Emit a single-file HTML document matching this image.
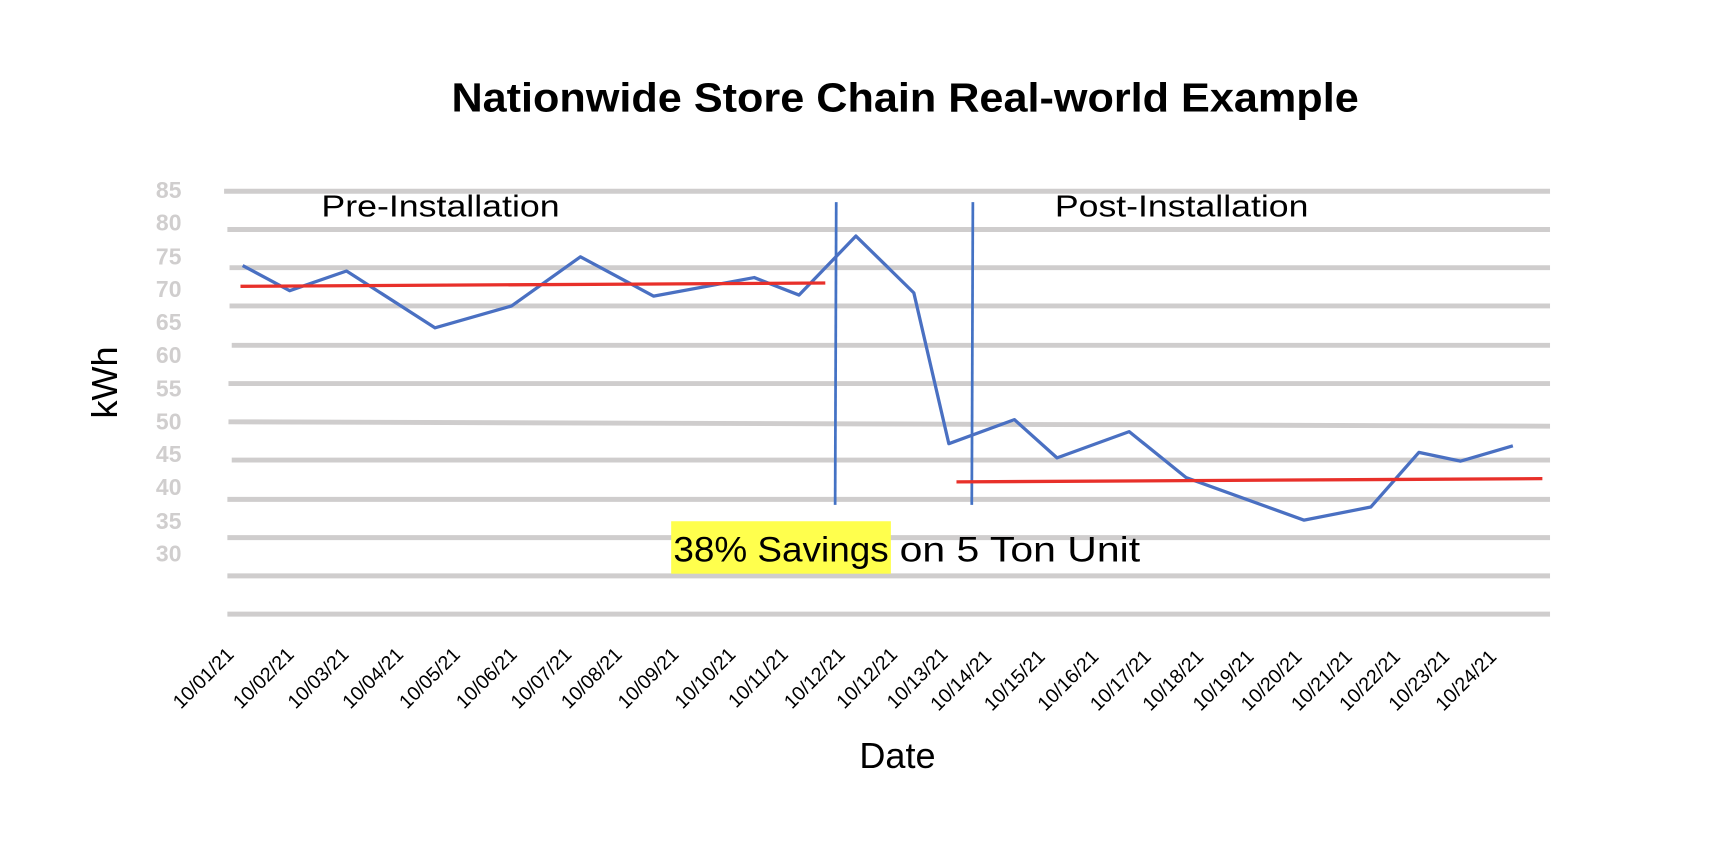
<!DOCTYPE html>
<html><head><meta charset="utf-8"><style>
html,body{margin:0;padding:0;background:#fff;}
svg{display:block;}
text{font-family:"Liberation Sans",sans-serif;}
</style></head><body>
<svg width="1714" height="860" viewBox="0 0 1568 787" preserveAspectRatio="none" xmlns="http://www.w3.org/2000/svg">
<rect width="1568" height="787" fill="#fff"/>
<text x="413" y="102" font-size="37" font-weight="bold" fill="#000" textLength="830" lengthAdjust="spacingAndGlyphs">Nationwide Store Chain Real-world Example</text>
<g stroke="#cfcdcd" stroke-width="4.5">
<line x1="205" y1="175" x2="1418" y2="175"/>
<line x1="208" y1="210" x2="1418" y2="210"/>
<line x1="210" y1="245" x2="1418" y2="245"/>
<line x1="210" y1="280" x2="1418" y2="280"/>
<line x1="212" y1="316" x2="1418" y2="316"/>
<line x1="209" y1="351" x2="1418" y2="351"/>
<line x1="209" y1="386" x2="1418" y2="390"/>
<line x1="212" y1="421" x2="1418" y2="421"/>
<line x1="208" y1="457" x2="1418" y2="457"/>
<line x1="208" y1="492" x2="1418" y2="492"/>
<line x1="208" y1="527" x2="1418" y2="527"/>
<line x1="208" y1="562" x2="1418" y2="562"/>
</g>
<g font-size="21" font-weight="bold" fill="#d0cece" text-anchor="end">
<text x="166" y="181">85</text><text x="166" y="211">80</text><text x="166" y="242">75</text>
<text x="166" y="272">70</text><text x="166" y="302">65</text><text x="166" y="332">60</text>
<text x="166" y="363">55</text><text x="166" y="393">50</text><text x="166" y="423">45</text>
<text x="166" y="453">40</text><text x="166" y="484">35</text><text x="166" y="514">30</text>
</g>
<text x="294" y="198" font-size="28" fill="#000" textLength="218" lengthAdjust="spacingAndGlyphs">Pre-Installation</text>
<text x="965" y="198" font-size="28" fill="#000" textLength="232" lengthAdjust="spacingAndGlyphs">Post-Installation</text>
<line x1="765" y1="185" x2="764" y2="462" stroke="#4472c4" stroke-width="2.5"/>
<line x1="890" y1="185" x2="889" y2="462" stroke="#4472c4" stroke-width="2.5"/>
<polyline fill="none" stroke="#4a70c2" stroke-width="3" stroke-linejoin="round" points="222,243 265,266 317,248 398,300 468,280 531,235 598,271 690,254 731,270 783,216 836,268 868,406 928,384 967,419 1033,395 1085,437 1193,476 1254,464 1298,414 1336,422 1384,408"/>
<line x1="220" y1="262" x2="755" y2="259" stroke="#e8302a" stroke-width="3"/>
<line x1="875" y1="441" x2="1411" y2="438" stroke="#e8302a" stroke-width="3"/>
<rect x="614" y="477" width="201" height="48" fill="#ffff4d"/>
<text x="616" y="514" font-size="32" fill="#000" textLength="197" lengthAdjust="spacingAndGlyphs">38% Savings</text>
<text x="823" y="514" font-size="32" fill="#000" textLength="220" lengthAdjust="spacingAndGlyphs">on 5 Ton Unit</text>
<text transform="translate(107,350) rotate(-90)" text-anchor="middle" font-size="33" fill="#000">kWh</text>
<text x="821" y="703" text-anchor="middle" font-size="33" fill="#000">Date</text>
<g font-size="18" fill="#000" text-anchor="end">
<text transform="translate(215,600) rotate(-45)">10/01/21</text>
<text transform="translate(270,600) rotate(-45)">10/02/21</text>
<text transform="translate(320,600) rotate(-45)">10/03/21</text>
<text transform="translate(370,600) rotate(-45)">10/04/21</text>
<text transform="translate(422,600) rotate(-45)">10/05/21</text>
<text transform="translate(474,600) rotate(-45)">10/06/21</text>
<text transform="translate(524,600) rotate(-45)">10/07/21</text>
<text transform="translate(570,600) rotate(-45)">10/08/21</text>
<text transform="translate(622,600) rotate(-45)">10/09/21</text>
<text transform="translate(674,600) rotate(-45)">10/10/21</text>
<text transform="translate(722,600) rotate(-45)">10/11/21</text>
<text transform="translate(774,600) rotate(-45)">10/12/21</text>
<text transform="translate(822,600) rotate(-45)">10/12/21</text>
<text transform="translate(868,600) rotate(-45)">10/13/21</text>
<text transform="translate(908,602) rotate(-45)">10/14/21</text>
<text transform="translate(957,602) rotate(-45)">10/15/21</text>
<text transform="translate(1006,602) rotate(-45)">10/16/21</text>
<text transform="translate(1054,602) rotate(-45)">10/17/21</text>
<text transform="translate(1102,602) rotate(-45)">10/18/21</text>
<text transform="translate(1148,602) rotate(-45)">10/19/21</text>
<text transform="translate(1192,602) rotate(-45)">10/20/21</text>
<text transform="translate(1238,602) rotate(-45)">10/21/21</text>
<text transform="translate(1282,602) rotate(-45)">10/22/21</text>
<text transform="translate(1327,602) rotate(-45)">10/23/21</text>
<text transform="translate(1370,602) rotate(-45)">10/24/21</text>
</g>
</svg>
</body></html>
